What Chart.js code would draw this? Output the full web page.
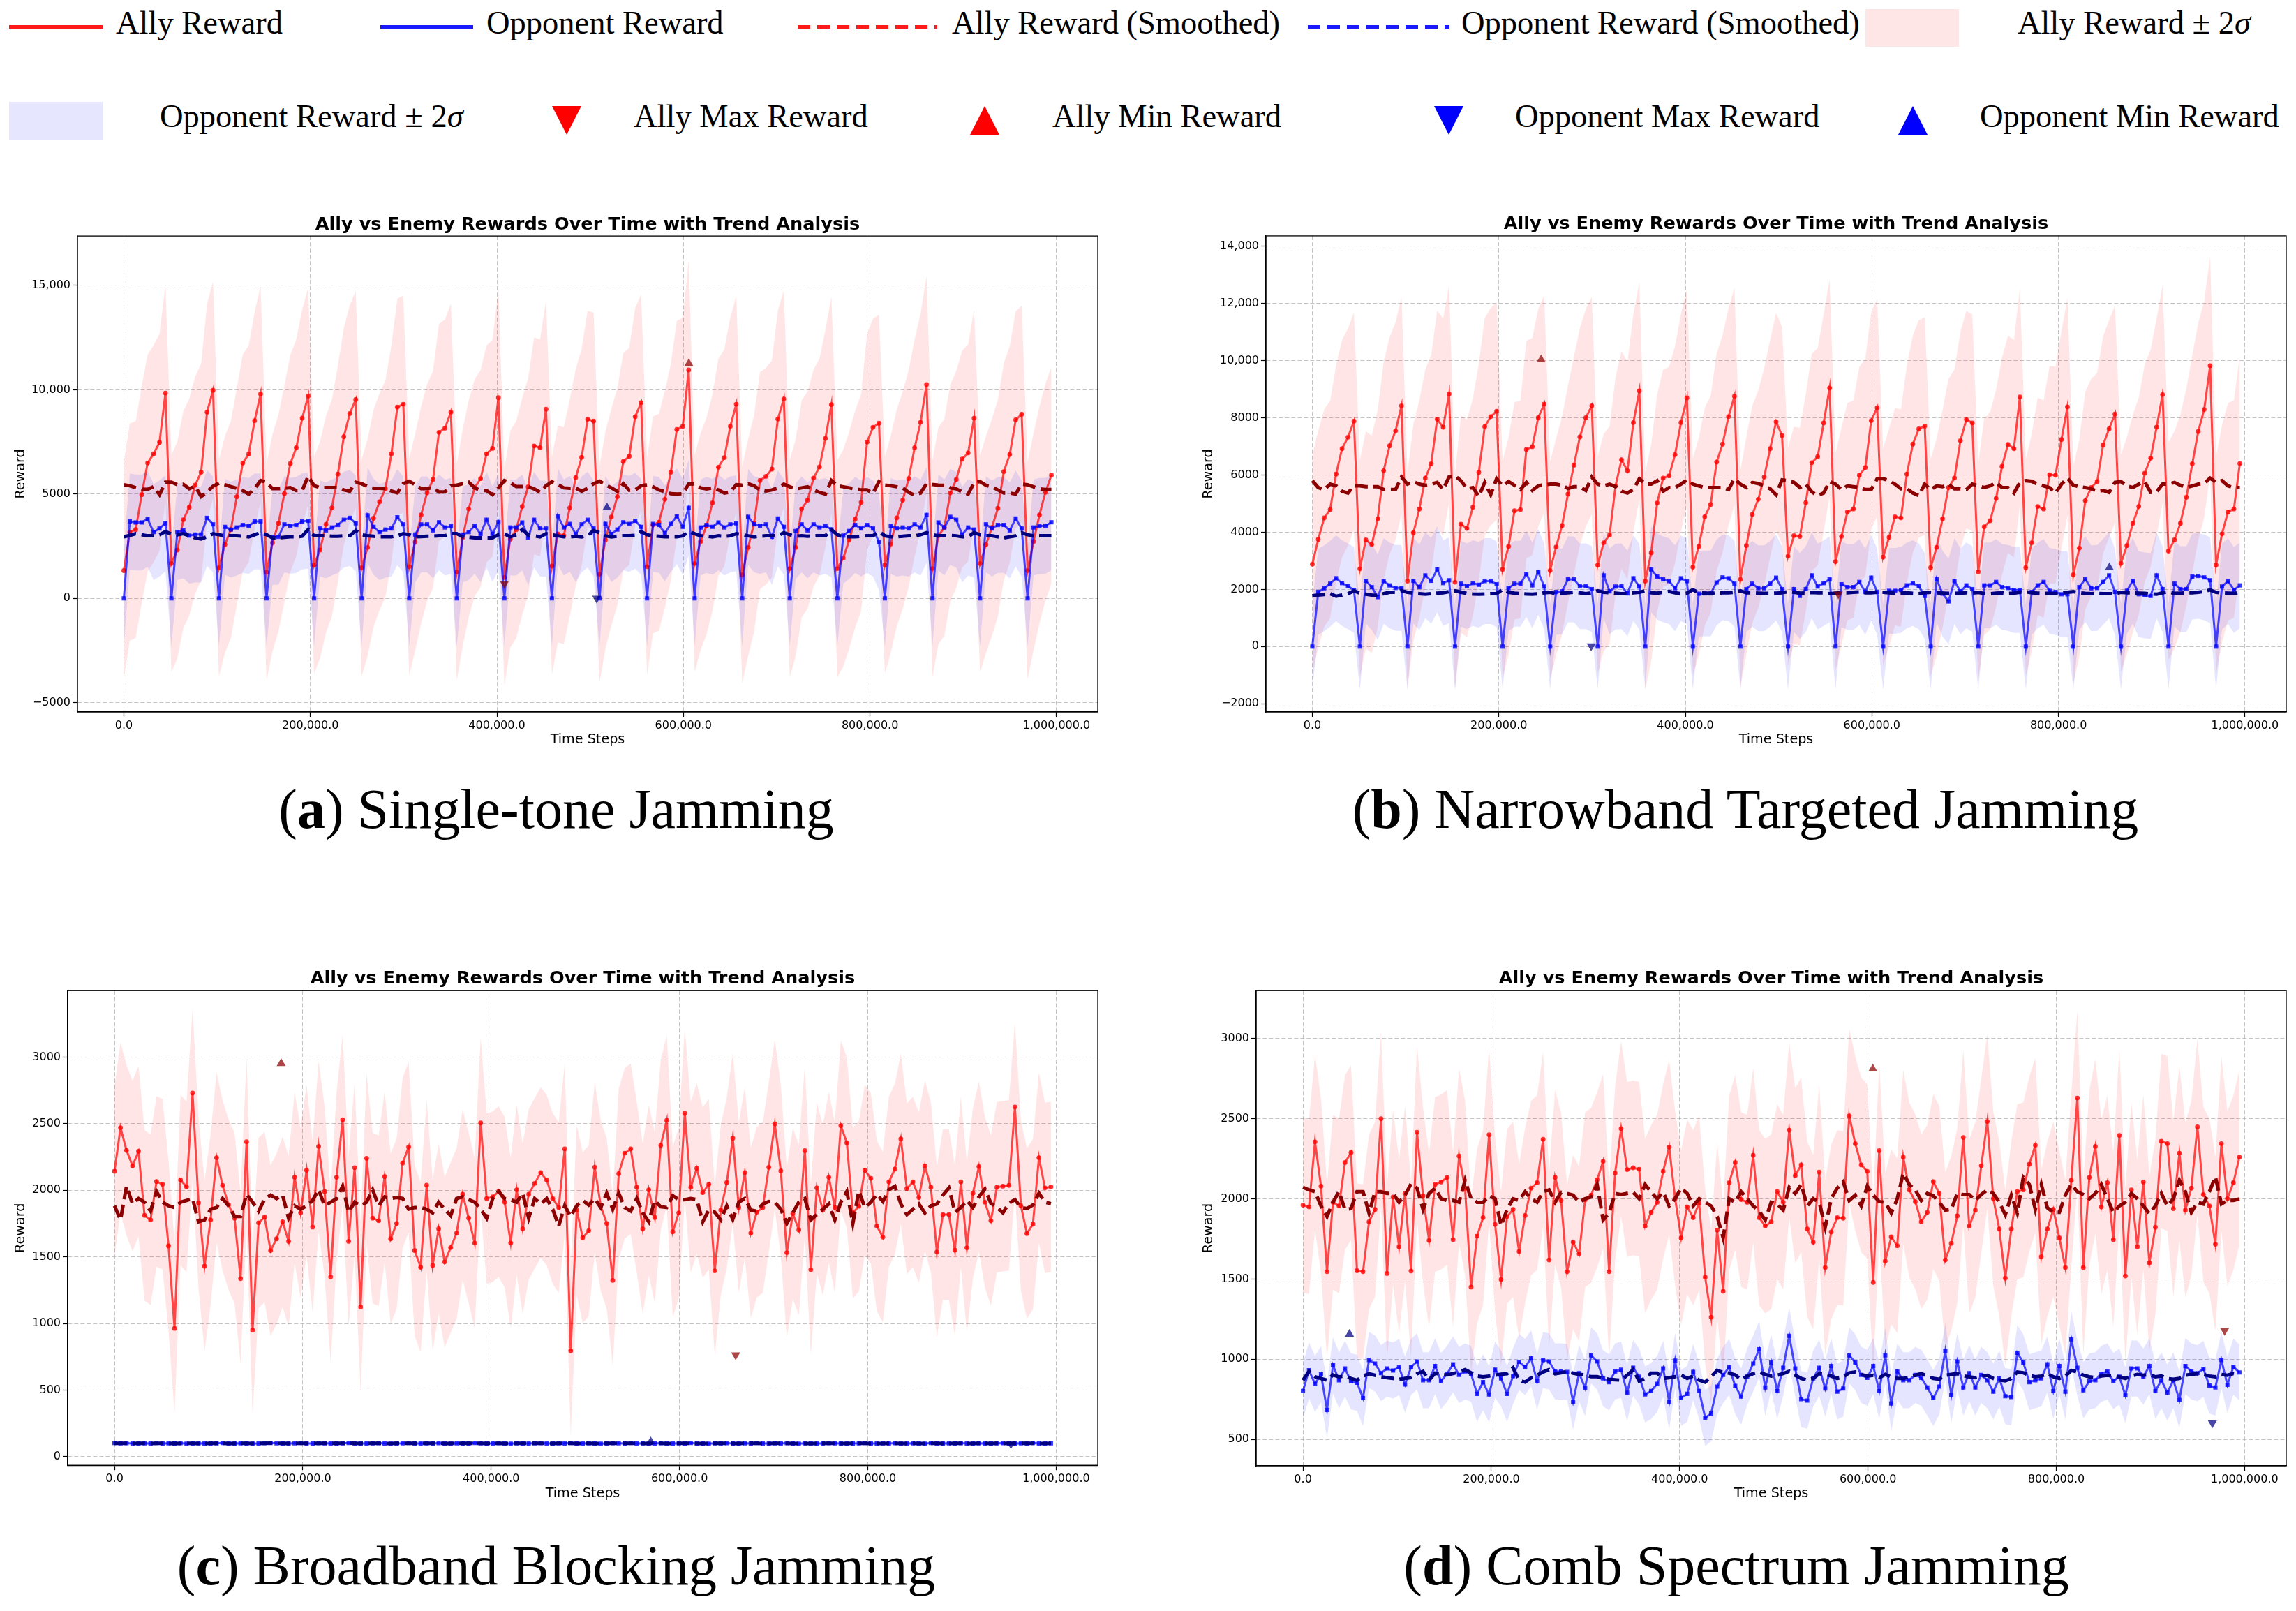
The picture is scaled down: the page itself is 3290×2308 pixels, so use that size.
<!DOCTYPE html>
<html>
<head>
<meta charset="utf-8">
<script src="https://cdn.jsdelivr.net/npm/chart.js@4.4.1/dist/chart.umd.min.js"></script>
<style>
html, body { margin: 0; padding: 0; background: #fff; }
body { width: 3290px; height: 2308px; position: relative; overflow: hidden; font-family: 'Liberation Serif', serif; color: #000; }
canvas { position: absolute; }
.lg { position: absolute; font-size: 46.5px; line-height: 46.5px; white-space: nowrap; }
.sw { position: absolute; }
.dash-r { background: repeating-linear-gradient(90deg, #ff1a1a 0 18px, transparent 18px 28px); }
.dash-b { background: repeating-linear-gradient(90deg, #1a1aff 0 18px, transparent 18px 28px); }
.tri-d, .tri-u { position: absolute; width: 0; height: 0; border-left: 21px solid transparent; border-right: 21px solid transparent; }
.tri-d { border-top: 41px solid; }
.tri-u { border-bottom: 41px solid; }
.cap { position: absolute; width: 1600px; text-align: center; font-size: 80px; line-height: 80px; white-space: nowrap; }
</style>
</head>
<body>

<!-- legend, row 1 -->
<div class="sw" style="left:13px;top:36px;width:134px;height:5px;background:#ff1a1a"></div>
<div class="lg" style="left:166px;top:10px">Ally Reward</div>
<div class="sw" style="left:545px;top:36px;width:133px;height:5px;background:#1a1aff"></div>
<div class="lg" style="left:697px;top:10px">Opponent Reward</div>
<div class="sw dash-r" style="left:1143px;top:36px;width:200px;height:5px"></div>
<div class="lg" style="left:1364px;top:10px">Ally Reward (Smoothed)</div>
<div class="sw dash-b" style="left:1874px;top:36px;width:203px;height:5px"></div>
<div class="lg" style="left:2094px;top:10px">Opponent Reward (Smoothed)</div>
<div class="sw" style="left:2673px;top:13px;width:134px;height:54px;background:#ffe6e6"></div>
<div class="lg" style="left:2891px;top:10px">Ally Reward ± 2<i>σ</i></div>

<!-- legend, row 2 -->
<div class="sw" style="left:13px;top:146px;width:134px;height:54px;background:#e6e6ff"></div>
<div class="lg" style="left:229px;top:144px">Opponent Reward ± 2<i>σ</i></div>
<div class="tri-d" style="left:791px;top:152px;border-top-color:#ff0000"></div>
<div class="lg" style="left:908px;top:144px">Ally Max Reward</div>
<div class="tri-u" style="left:1390px;top:152px;border-bottom-color:#ff0000"></div>
<div class="lg" style="left:1508px;top:144px">Ally Min Reward</div>
<div class="tri-d" style="left:2055px;top:152px;border-top-color:#0000ff"></div>
<div class="lg" style="left:2171px;top:144px">Opponent Max Reward</div>
<div class="tri-u" style="left:2720px;top:152px;border-bottom-color:#0000ff"></div>
<div class="lg" style="left:2837px;top:144px">Opponent Min Reward</div>

<canvas id="panelA" width="1600" height="782" style="left:0px;top:290px"></canvas>
<canvas id="panelB" width="1590" height="782" style="left:1700px;top:290px"></canvas>
<canvas id="panelC" width="1600" height="782" style="left:0px;top:1370px"></canvas>
<canvas id="panelD" width="1590" height="782" style="left:1700px;top:1370px"></canvas>

<div class="cap" style="left:-3px;top:1119px">(<b>a</b>) Single-tone Jamming</div>
<div class="cap" style="left:1701px;top:1119px">(<b>b</b>) Narrowband Targeted Jamming</div>
<div class="cap" style="left:-3px;top:2203px">(<b>c</b>) Broadband Blocking Jamming</div>
<div class="cap" style="left:1688px;top:2203px">(<b>d</b>) Comb Spectrum Jamming</div>

<script>
// time steps shared by all four runs (157 evaluation points)
const STEP = 6375;
const timeSteps = Array.from({ length: 157 }, (_, i) => i * STEP);
const xTickValues = [0, 200000, 400000, 600000, 800000, 1000000];

// ---- (a) single-tone jamming
const singleToneAlly = [
  1330, 3180, 3300, 4970, 6490, 6930, 7480, 9840, 1670,
  2320, 3770, 4370, 5430, 6050, 8930, 9975, 1470,
  2580, 3300, 4870, 6490, 6920, 8520, 9800, 1250,
  2660, 3600, 5020, 6460, 7220, 8640, 9700, 1590,
  2320, 3550, 4340, 5960, 7750, 8860, 9530, 1470,
  2440, 3840, 4630, 5260, 6930, 9170, 9310, 1520,
  2700, 4000, 5060, 5700, 7960, 8160, 8930, 1260,
  2920, 4290, 5310, 5740, 6930, 7190, 9620, 1000,
  2840, 3300, 4400, 5350, 7310, 7220, 9070, 1550,
  3090, 3010, 4340, 5790, 6760, 8590, 8500, 1160,
  2800, 3900, 4870, 6560, 6810, 8710, 9380, 1520,
  3520, 3650, 4750, 6050, 8100, 8250, 10950, 1670,
  2720, 3470, 4580, 6290, 6750, 8250, 9310, 1130,
  2440, 3600, 5650, 5850, 6200, 8600, 9560, 1430,
  2440, 4290, 4710, 5770, 6300, 7670, 9290, 1430,
  1930, 2800, 3800, 4600, 7500, 8200, 8400, 1600,
  2610, 3860, 4710, 5740, 7220, 8440, 10250, 1430,
  3000, 3400, 5060, 5700, 6680, 6970, 8640, 1670,
  2580, 3400, 4320, 6080, 6900, 8560, 8830, 1330,
  2720, 4000, 5090, 5910
];
const singleToneOpp = [
  0, 3690, 3640, 3640, 3810, 3180, 3350, 3600, 0,
  3180, 3260, 3010, 3060, 3060, 3860, 3550, 0,
  3430, 3300, 3400, 3520, 3470, 3690, 3690, 0,
  2950, 2950, 3550, 3480, 3520, 3690, 3720, 0,
  3350, 3260, 3400, 3520, 3770, 3860, 3600, 0,
  3980, 3430, 3180, 3300, 3350, 3890, 3550, 0,
  3060, 3550, 3550, 3260, 3650, 3400, 3470, 0,
  3060, 3180, 3480, 3090, 3770, 3090, 3650, 0,
  3400, 3400, 3640, 2920, 3770, 3350, 3350, 0,
  3940, 3400, 3570, 3090, 3550, 3770, 3350, 0,
  3570, 3090, 3300, 3650, 3570, 3720, 3430, 0,
  3570, 3520, 3130, 3570, 3940, 3430, 4340, 0,
  3400, 3520, 3430, 3640, 3400, 3550, 3600, 0,
  3910, 3550, 3480, 3550, 2950, 3830, 3430, 0,
  3230, 3550, 3260, 3550, 3400, 3470, 3310, 0,
  3010, 3230, 3520, 3350, 3520, 3350, 2700, 0,
  3470, 3350, 3400, 3350, 3550, 3400, 4000, 0,
  3640, 3400, 3910, 3770, 3060, 3400, 3300, 0,
  3550, 3350, 3520, 3520, 3260, 3830, 3350, 0,
  3400, 3470, 3480, 3650
];
const singleToneAllySmoothed = [
  5450, 5400, 5310, 5240, 5230, 5360, 4970, 5570, 5570,
  5450, 5470, 5260, 5380, 4880, 5110, 5380, 5520,
  5450, 5360, 5280, 5170, 5000, 5260, 5650, 5570,
  5260, 5260, 5280, 5310, 5170, 5170, 5860, 5400,
  5310, 5310, 5310, 5310, 5200, 5140, 5570, 5500,
  5360, 5280, 5280, 5260, 5150, 5060, 5500, 5610,
  5450, 5260, 5260, 5310, 5100, 5110, 5400, 5430,
  5500, 5570, 5300, 5170, 5170, 4970, 5300, 5650,
  5550, 5360, 5360, 5360, 5250, 5090, 5400, 5590,
  5450, 5300, 5280, 5290, 5140, 5280, 5500, 5620,
  5450, 5300, 5130, 5500, 5180, 5200, 5400, 5450,
  5350, 5200, 5120, 5020, 5000, 5020, 5480, 5490,
  5300, 5250, 5300, 5200, 5050, 5100, 5450, 5430,
  5500, 5400, 5200, 5150, 5200, 5300, 5480, 5350,
  5250, 5300, 5350, 5200, 5080, 5000, 5650, 5400,
  5350, 5300, 5250, 5200, 5200, 5040, 5600, 5430,
  5400, 5350, 5300, 5080, 4950, 5050, 5500, 5460,
  5430, 5420, 5300, 5250, 5100, 5000, 5550, 5600,
  5420, 5350, 5200, 5050, 5050, 5000, 5480, 5450,
  5350, 5250, 5220, 5220
];
const singleToneOppSmoothed = [
  2950, 3020, 3100, 3050, 3000, 3010, 3050, 3200, 3080,
  3050, 3100, 3000, 2900, 2850, 2950, 3100, 3050,
  3000, 3000, 3000, 2980, 2950, 3050, 3150, 3050,
  2900, 2900, 2930, 2950, 2950, 2980, 3300, 3000,
  3000, 3000, 2980, 2980, 3000, 3000, 3250, 3050,
  3000, 2980, 2950, 2950, 2950, 3000, 3100, 3050,
  2950, 2960, 2980, 2980, 3000, 3000, 3100, 3100,
  2950, 2930, 2900, 2900, 2900, 2900, 3050, 3100,
  2950, 3050, 3300, 3050, 3000, 2950, 3100, 3050,
  3000, 2950, 2950, 2980, 2950, 3000, 3250, 3150,
  3000, 2950, 2980, 3000, 3000, 3020, 3200, 3050,
  3000, 2980, 2950, 2950, 2950, 3000, 3200, 3100,
  3000, 2980, 2950, 3000, 2980, 3000, 3100, 3050,
  3000, 2950, 2980, 3000, 3000, 3000, 3150, 3050,
  2980, 3000, 2980, 3000, 3000, 3000, 3300, 3050,
  2950, 2950, 2950, 2980, 3000, 3000, 3200, 3000,
  2950, 2950, 2980, 3000, 3000, 3050, 3150, 3050,
  3000, 3000, 3020, 3000, 2950, 2950, 3150, 3050,
  3000, 3000, 2950, 2900, 2950, 3000, 3150, 3050,
  3000, 3000, 3000, 3000
];
const singleToneTwoSigma = { ally: 5200, opp: 2300 };
const singleToneExtremes = { allyMax: [408000, 700], allyMin: [605800, 11260], oppMax: [507000, 0], oppMin: [518000, 4350] };
const singleToneYRange = [-5445, 17371];
const singleToneYTicks = [-5000, 0, 5000, 10000, 15000];

// ---- (b) narrowband targeted jamming
const narrowbandAlly = [
  2880, 3750, 4500, 4790, 6030, 6920, 7320, 7880, 2720,
  3730, 3570, 4470, 6150, 7020, 7540, 8420, 2290,
  3980, 4810, 5890, 6390, 7950, 7670, 8830, 2250,
  4280, 4130, 4870, 6090, 7690, 8040, 8230, 2700,
  3500, 4750, 4790, 6890, 6990, 8000, 8480, 2660,
  3480, 4230, 5330, 6340, 7330, 8000, 8420, 2850,
  3630, 3900, 5620, 6530, 6150, 7830, 8940, 2290,
  3280, 5020, 5890, 5970, 6710, 7830, 8690, 2780,
  3500, 4540, 4970, 6450, 7080, 8040, 8750, 2350,
  3530, 4620, 5150, 5930, 6920, 7860, 7380, 3160,
  3880, 3850, 5030, 6430, 6640, 7820, 9040, 2970,
  3850, 4710, 4810, 5990, 6260, 7900, 8350, 3130,
  3820, 4540, 4500, 6030, 7080, 7610, 7710, 2760,
  3470, 4470, 5560, 5890, 7200, 7940, 7820, 2610,
  4190, 4400, 5180, 6300, 7070, 6920, 8730, 2760,
  3630, 4900, 4810, 6010, 5990, 7240, 8380, 2510,
  3440, 5100, 5560, 5770, 7050, 7610, 8130, 2910,
  3530, 4310, 4900, 6060, 6590, 7670, 8810, 3340,
  3730, 4310, 5220, 6390, 7520, 8290, 9820, 2850,
  3940, 4710, 4810, 6400
];
const narrowbandOpp = [
  0, 1910, 2040, 2200, 2390, 2220, 2110, 1980, 0,
  2300, 2080, 1730, 2290, 2140, 2050, 2050, 0,
  2300, 2080, 2490, 2300, 2700, 2220, 2320, 0,
  2200, 2110, 2220, 2160, 2290, 2290, 2180, 0,
  2040, 2200, 2200, 2540, 2140, 2610, 2100, 0,
  1910, 1930, 2350, 2350, 2110, 2110, 2010, 0,
  2490, 1930, 2100, 2110, 1860, 2390, 2100, 0,
  2700, 2450, 2350, 2290, 2040, 2390, 2290, 0,
  1850, 1860, 1860, 2240, 2420, 2390, 2200, 0,
  2010, 2200, 2040, 2040, 2200, 2410, 2010, 0,
  2010, 1770, 2010, 2490, 2100, 2220, 2350, 0,
  2180, 2080, 2080, 2260, 1910, 2410, 1910, 0,
  1950, 1950, 1980, 2140, 2220, 2110, 1770, 0,
  2350, 1850, 1580, 2290, 1930, 2140, 2010, 0,
  2140, 2140, 2260, 2080, 2050, 1980, 1980, 0,
  1910, 2140, 2260, 1950, 1910, 1830, 1830, 0,
  2080, 2360, 2040, 2050, 2260, 2490, 1910, 0,
  1950, 2300, 1830, 1790, 1770, 2490, 2010, 0,
  2200, 2010, 2010, 2450, 2470, 2420, 2320, 0,
  2100, 2290, 1980, 2140
];
const narrowbandAllySmoothed = [
  5800, 5560, 5490, 5680, 5620, 5430, 5370, 5620, 5620,
  5590, 5590, 5590, 5490, 5490, 5490, 5930, 5680,
  5770, 5680, 5640, 5680, 5740, 5490, 5930, 5970,
  5800, 5520, 5560, 5250, 5740, 5310, 5870, 5620,
  5770, 5640, 5490, 5740, 5460, 5620, 5660, 5680,
  5680, 5640, 5530, 5590, 5590, 5460, 5930, 5680,
  5620, 5680, 5590, 5430, 5370, 5490, 5870, 5680,
  5680, 5800, 5430, 5560, 5560, 5680, 5830, 5680,
  5620, 5560, 5560, 5560, 5560, 5490, 5870, 5680,
  5560, 5740, 5700, 5620, 5520, 5310, 5830, 5800,
  5740, 5560, 5680, 5410, 5280, 5370, 5770, 5680,
  5490, 5620, 5590, 5560, 5490, 5490, 5870, 5870,
  5800, 5680, 5520, 5520, 5370, 5280, 5680, 5490,
  5620, 5590, 5680, 5520, 5520, 5490, 5680, 5620,
  5560, 5620, 5740, 5560, 5560, 5370, 5740, 5800,
  5780, 5680, 5620, 5560, 5370, 5680, 5890, 5640,
  5590, 5560, 5520, 5430, 5460, 5390, 5740, 5770,
  5620, 5560, 5680, 5770, 5390, 5410, 5680, 5680,
  5740, 5640, 5560, 5620, 5680, 5700, 5890, 5740,
  5800, 5620, 5560, 5560
];
const narrowbandOppSmoothed = [
  1780, 1800, 1820, 1850, 1760, 1800, 1850, 1950, 1870,
  1830, 1800, 1790, 1850, 1900, 1900, 1950, 1900,
  1870, 1850, 1830, 1850, 1870, 1880, 1920, 1950,
  1900, 1860, 1840, 1830, 1840, 1850, 1850, 2000,
  1900, 1870, 1850, 1840, 1830, 1850, 1880, 1900,
  1850, 1870, 1880, 1900, 1880, 1850, 1880, 1950,
  1900, 1880, 1870, 1850, 1860, 1880, 1900, 1950,
  1880, 1870, 1900, 1930, 1880, 1850, 1870, 1990,
  1880, 1870, 1860, 1870, 1880, 1880, 1900, 1950,
  1880, 1880, 1870, 1860, 1860, 1870, 1880, 1920,
  1900, 1870, 1870, 1890, 1880, 1880, 1850, 1870,
  1880, 1880, 1900, 1910, 1880, 1880, 1900, 1900,
  1880, 1860, 1870, 1880, 1860, 1850, 1880, 1900,
  1880, 1870, 1860, 1860, 1870, 1880, 1870, 1890,
  1860, 1850, 1870, 1880, 1860, 1870, 1900, 1920,
  1880, 1870, 1860, 1860, 1850, 1870, 1900, 1920,
  1880, 1860, 1850, 1860, 1850, 1850, 1850, 1900,
  1880, 1880, 1870, 1860, 1840, 1830, 1880, 1910,
  1860, 1870, 1880, 1880, 1900, 1930, 1980, 1900,
  1880, 1870, 1860, 1880
];
const narrowbandTwoSigma = { ally: 3800, opp: 1500 };
const narrowbandExtremes = { allyMax: [564000, 1830], allyMin: [245300, 10030], oppMax: [299000, 20], oppMin: [854600, 2760] };
const narrowbandYRange = [-2286, 14359];
const narrowbandYTicks = [-2000, 0, 2000, 4000, 6000, 8000, 10000, 12000, 14000];

// ---- (c) broadband blocking jamming
const broadbandAlly = [
  2143, 2470, 2300, 2183, 2293, 1812, 1778, 2066, 2045, 1583,
  963, 2077, 2026, 2730, 1906, 1431, 1778, 2245, 2037, 1892,
  1790, 1337, 2365, 950, 1756, 1799, 1548, 1636, 1764, 1617,
  2098, 1831, 2151, 1724, 2330, 1990, 1350, 2098, 2530, 1617,
  2170, 1124, 2240, 1791, 1772, 2103, 1636, 1751, 2205, 2325,
  1548, 1423, 2039, 1436, 1711, 1463, 1570, 1679, 1970, 1791,
  1604, 2506, 1938, 1951, 1991, 1911, 1604, 2004, 1711, 1970,
  2052, 2133, 2077, 1938, 1871, 2311, 795, 1852, 1644, 1697,
  2173, 1884, 1751, 1324, 2125, 2279, 2311, 2023, 1711, 2004,
  1796, 2338, 2525, 1689, 1831, 2578, 2023, 2165, 1983, 2045,
  1396, 1852, 2058, 2391, 1871, 2133, 1679, 1836, 1871, 2173,
  2498, 2146, 1532, 1826, 1703, 2298, 1404, 2018, 1852, 2098,
  1871, 2485, 2357, 1831, 1880, 2151, 2090, 1732, 1649, 2063,
  2159, 2386, 2012, 2063, 1946, 2183, 2023, 1537, 1818, 1818,
  1551, 2063, 1569, 1978, 2178, 1911, 1772, 2023, 2031, 2037,
  2626, 1884, 1676, 1746, 2245, 2018, 2026
];
const broadbandOpp = [
  104, 101, 102, 100, 99, 101, 100, 103, 99, 101,
  100, 102, 98, 100, 101, 99, 100, 101, 103, 100,
  99, 101, 100, 98, 100, 102, 104, 101, 100, 99,
  101, 103, 100, 100, 102, 101, 99, 100, 101, 104,
  100, 99, 100, 101, 102, 100, 98, 100, 101, 103,
  100, 99, 101, 100, 102, 100, 99, 101, 100, 100,
  103, 101, 99, 100, 102, 100, 98, 101, 100, 99,
  101, 102, 100, 99, 101, 100, 103, 100, 99, 101,
  100, 98, 100, 102, 101, 99, 104, 100, 101, 99,
  100, 102, 100, 99, 101, 100, 103, 100, 99, 98,
  101, 100, 102, 100, 99, 101, 100, 103, 100, 99,
  101, 100, 102, 100, 98, 101, 100, 99, 100, 102,
  101, 100, 99, 100, 101, 103, 100, 99, 101, 100,
  102, 99, 100, 101, 100, 98, 103, 100, 99, 101,
  100, 102, 100, 99, 101, 100, 99, 101, 102, 100,
  99, 101, 100, 103, 100, 99, 101
];
const broadbandAllySmoothed = [
  1884, 1778, 2031, 1898, 1938, 1911, 1844, 1991, 1911, 1884,
  1871, 1911, 1924, 1938, 1764, 1778, 1858, 1871, 1938, 1884,
  1804, 1804, 1970, 1911, 1844, 1932, 1964, 1938, 1964, 1791,
  1884, 1858, 1884, 1924, 2004, 1884, 1911, 1938, 2031, 1836,
  1911, 1884, 1911, 2004, 1884, 1951, 1938, 1946, 1938, 1858,
  1871, 1871, 1858, 1831, 1911, 1858, 1810, 1938, 1951, 1930,
  1911, 1858, 1791, 1938, 1991, 1938, 1930, 1911, 1978, 1791,
  1938, 1898, 1938, 1858, 1732, 1884, 1804, 1884, 1924, 1890,
  1938, 1871, 1978, 1858, 1978, 1871, 1844, 1938, 1831, 1764,
  1924, 1876, 1871, 1959, 1930, 1930, 1938, 1930, 1764, 1852,
  1836, 1778, 1884, 1783, 1911, 1938, 1852, 1844, 1898, 1916,
  1911, 1858, 1751, 1831, 1911, 1938, 1778, 1818, 1858, 1898,
  1778, 1911, 1991, 1751, 1996, 1871, 1911, 1970, 1916, 2004,
  2031, 1898, 1818, 1858, 1898, 1831, 1884, 1898, 1964, 2018,
  1836, 1871, 1924, 1871, 1951, 2010, 1903, 1871, 1831, 1903,
  1930, 1871, 1863, 1890, 1978, 1911, 1900
];
const broadbandOppSmoothed = [
  101, 101, 101, 100, 101, 101, 100, 101, 101, 100,
  101, 100, 101, 101, 100, 100, 101, 101, 101, 100,
  100, 101, 101, 100, 101, 101, 102, 101, 101, 100,
  101, 101, 101, 100, 101, 101, 100, 101, 101, 102,
  101, 100, 101, 101, 101, 100, 100, 101, 101, 101,
  101, 100, 101, 101, 101, 100, 100, 101, 101, 101,
  101, 101, 100, 101, 101, 100, 100, 101, 101, 100,
  101, 101, 100, 100, 101, 101, 101, 100, 100, 101,
  100, 100, 101, 101, 101, 101, 101, 101, 100, 100,
  101, 101, 100, 100, 101, 101, 101, 100, 100, 100,
  101, 101, 101, 100, 100, 101, 101, 101, 100, 100,
  101, 101, 101, 100, 100, 100, 100, 100, 101, 101,
  101, 100, 100, 101, 101, 101, 100, 100, 100, 101,
  101, 100, 100, 101, 100, 100, 101, 101, 100, 100,
  101, 101, 100, 100, 101, 101, 100, 101, 101, 100,
  100, 101, 101, 101, 100, 100, 101
];
const broadbandTwoSigma = { ally: 640, opp: 9 };
const broadbandExtremes = { allyMax: [659700, 763], allyMin: [177000, 2952], oppMax: [952000, 96], oppMin: [569500, 112] };
const broadbandYRange = [-64, 3499];
const broadbandYTicks = [0, 500, 1000, 1500, 2000, 2500, 3000];

// ---- (d) comb spectrum jamming
const combAlly = [
  1961, 1950, 2356, 2079, 1546, 1979, 1956, 2227, 2289, 1552,
  1546, 1857, 1934, 2500, 1535, 2012, 1701, 2034, 1550, 2416,
  2019, 1741, 2090, 2105, 2134, 1746, 2267, 2067, 1450, 1768,
  1883, 2400, 1841, 1497, 1890, 1934, 1672, 1896, 2067, 2101,
  2372, 1619, 2134, 1990, 1546, 1730, 1657, 1994, 2023, 2119,
  2234, 1546, 2161, 2438, 2183, 2194, 2185, 1830, 1916, 1979,
  2172, 2323, 2001, 1757, 1950, 1883, 1974, 1512, 1262, 1805,
  1424, 2101, 2227, 1996, 1979, 2272, 1883, 1830, 1857, 2045,
  1979, 2429, 2145, 2212, 1812, 1730, 2167, 1572, 1794, 1883,
  1879, 2518, 2345, 2212, 2172, 1479, 2301, 1612, 1763, 1708,
  2261, 2056, 1983, 1857, 1916, 2107, 2034, 1619, 1723, 1894,
  2383, 1830, 1930, 2207, 2483, 2001, 1812, 1506, 1812, 2045,
  2056, 2216, 2334, 1639, 1812, 1934, 1757, 1572, 2116, 2629,
  1572, 2134, 2327, 1950, 2101, 1746, 2396, 1519, 2056, 1701,
  2105, 1601, 1823, 2360, 2345, 1939, 2285, 1930, 2067, 2449,
  2027, 1956, 1717, 2345, 2001, 2101, 2261
];
const combOpp = [
  802, 931, 846, 906, 684, 962, 869, 942, 862, 853,
  758, 995, 973, 913, 942, 929, 951, 842, 951, 986,
  869, 869, 957, 864, 909, 968, 902, 924, 909, 784,
  857, 780, 935, 880, 784, 895, 984, 951, 1006, 862,
  995, 986, 924, 924, 920, 735, 913, 820, 1024, 986,
  880, 857, 924, 935, 791, 946, 891, 780, 802, 846,
  942, 735, 991, 758, 784, 920, 802, 635, 662, 829,
  902, 951, 833, 767, 891, 973, 1062, 824, 980, 802,
  946, 1146, 942, 751, 742, 880, 946, 817, 957, 798,
  817, 1024, 980, 902, 884, 957, 802, 1024, 724, 924,
  869, 869, 902, 884, 824, 758, 829, 1051, 775, 986,
  824, 913, 824, 902, 869, 798, 880, 769, 764, 1040,
  980, 857, 869, 880, 968, 802, 957, 798, 1124, 946,
  806, 862, 869, 909, 924, 864, 891, 775, 942, 942,
  891, 957, 802, 869, 791, 869, 746, 957, 924, 913,
  940, 835, 824, 995, 840, 953, 917
];
const combAllySmoothed = [
  2072, 2056, 2045, 1956, 1890, 1979, 2045, 1934, 1939, 2045,
  2045, 1912, 2045, 2045, 2034, 2034, 1979, 2023, 2094, 2067,
  1934, 2034, 2067, 2001, 1990, 1990, 1979, 2116, 2001, 1979,
  1979, 2019, 2001, 1834, 1934, 2001, 1990, 2045, 2001, 1979,
  2045, 2056, 1979, 2041, 2034, 2023, 1979, 2001, 2012, 2090,
  1868, 1912, 2034, 2027, 2034, 2041, 2001, 2090, 2041, 2001,
  2041, 1956, 2001, 2067, 2034, 1956, 2001, 1979, 1956, 1890,
  1757, 2001, 1979, 2045, 2001, 1956, 1923, 1868, 1979, 1968,
  1930, 2072, 2034, 2090, 1956, 2001, 1979, 1823, 2001, 2067,
  2107, 1990, 2023, 1956, 2079, 2023, 1983, 1979, 1912, 2001,
  2161, 2090, 2056, 1990, 2034, 2019, 1979, 1930, 1934, 2034,
  2027, 2027, 1990, 2027, 2056, 2034, 1979, 1901, 2023, 1912,
  2134, 2090, 1934, 2090, 1945, 1916, 1916, 2023, 2090, 2045,
  2027, 2001, 2034, 2090, 2001, 1916, 1956, 1979, 2034, 2001,
  1956, 1908, 1956, 2034, 1956, 2001, 2116, 2045, 1916, 1979,
  1968, 2045, 2138, 1968, 1990, 1990, 2000
];
const combOppSmoothed = [
  869, 924, 891, 880, 869, 902, 890, 895, 880, 869,
  895, 909, 900, 891, 885, 880, 875, 880, 885, 909,
  924, 869, 913, 905, 902, 910, 920, 935, 915, 895,
  890, 895, 900, 906, 909, 946, 869, 857, 884, 900,
  920, 935, 909, 915, 924, 913, 905, 902, 891, 891,
  880, 875, 872, 869, 900, 935, 864, 880, 913, 913,
  880, 885, 891, 902, 880, 895, 869, 857, 891, 931,
  917, 913, 902, 873, 895, 910, 920, 905, 895, 900,
  910, 925, 900, 880, 870, 880, 910, 905, 895, 880,
  890, 915, 920, 905, 895, 900, 885, 905, 890, 880,
  880, 890, 900, 910, 895, 880, 875, 900, 905, 910,
  895, 890, 885, 895, 900, 880, 870, 865, 880, 920,
  915, 900, 890, 895, 910, 890, 880, 895, 930, 920,
  900, 890, 885, 895, 900, 895, 890, 880, 895, 905,
  900, 905, 890, 895, 880, 875, 880, 900, 905, 910,
  905, 895, 890, 905, 900, 910, 900
];
const combTwoSigma = { ally: 545, opp: 175 };
const combExtremes = { allyMax: [978800, 1179], allyMin: [605200, 2811], oppMax: [965800, 602], oppMin: [49400, 1157] };
const combYRange = [335, 3299];
const combYTicks = [500, 1000, 1500, 2000, 2500, 3000];

const X_RANGE = [-49725, 1044225];
const TITLE = 'Ally vs Enemy Rewards Over Time with Trend Analysis';

Chart.defaults.font.family = "'DejaVu Sans', sans-serif";
Chart.defaults.color = '#000';

// matplotlib-style closed frame round the plot area
const frame = {
  id: 'frame',
  afterDraw(chart) {
    const { ctx, chartArea: a } = chart;
    ctx.save();
    ctx.strokeStyle = '#000';
    ctx.lineWidth = 1.3;
    ctx.strokeRect(a.left, a.top, a.right - a.left, a.bottom - a.top);
    ctx.restore();
  }
};

function fmtY(v) {
  const a = Math.abs(v);
  const s = a >= 10000 ? a.toLocaleString('en-US') : String(a);
  return (v < 0 ? '\u2212' : '') + s;
}

function buildPanel(id, d, layout) {
  const pts = arr => timeSteps.map((x, i) => ({ x, y: arr[i] }));
  const band = (arr, off) => timeSteps.map((x, i) => ({ x, y: arr[i] + off }));
  const marker = (p, color, rot) => ({
    data: [{ x: p[0], y: p[1] }], showLine: false, pointStyle: 'triangle', pointRotation: rot,
    pointRadius: 7.5, pointBorderWidth: 0, pointBackgroundColor: color, borderColor: color, order: 0
  });
  const hidden = { borderColor: 'transparent', borderWidth: 0, pointRadius: 0 };

  const datasets = [
    Object.assign({ data: band(d.ally, d.sigma2.ally), fill: '+1', backgroundColor: 'rgba(255,0,0,0.1)', order: 10 }, hidden),
    Object.assign({ data: band(d.ally, -d.sigma2.ally), fill: false, order: 10 }, hidden),
    Object.assign({ data: band(d.opp, d.sigma2.opp), fill: '+1', backgroundColor: 'rgba(0,0,255,0.1)', order: 9 }, hidden),
    Object.assign({ data: band(d.opp, -d.sigma2.opp), fill: false, order: 9 }, hidden),
    { data: pts(d.ally), borderColor: 'rgba(255,0,0,0.7)', backgroundColor: 'rgba(255,0,0,0.7)', borderWidth: 3,
      pointStyle: 'circle', pointRadius: 3.4, pointBorderWidth: 0, pointBackgroundColor: 'rgba(255,0,0,0.8)', order: 5 },
    { data: pts(d.opp), borderColor: 'rgba(0,0,255,0.7)', backgroundColor: 'rgba(0,0,255,0.7)', borderWidth: 3,
      pointStyle: 'rect', pointRadius: 4.3, pointBorderWidth: 0, pointBackgroundColor: 'rgba(0,0,255,0.8)', order: 4 },
    { data: pts(d.allySmooth), borderColor: 'rgba(139,0,0,1)', borderWidth: 5, borderDash: [18, 8], pointRadius: 0, order: 3 },
    { data: pts(d.oppSmooth), borderColor: 'rgba(0,0,128,1)', borderWidth: 5, borderDash: [18, 8], pointRadius: 0, order: 2 },
    marker(d.extremes.allyMax, 'rgba(139,0,0,0.72)', 180),
    marker(d.extremes.allyMin, 'rgba(139,0,0,0.72)', 0),
    marker(d.extremes.oppMax, 'rgba(0,0,128,0.72)', 180),
    marker(d.extremes.oppMin, 'rgba(0,0,128,0.72)', 0)
  ];

  const gridCommon = { color: 'rgba(176,176,176,0.75)', lineWidth: 1, drawTicks: true, tickLength: 7, tickColor: '#000', tickWidth: 1.2, tickBorderDash: [] };
  const borderCommon = { display: true, color: '#000', width: 1.3, dash: [6, 3] };
  const fixTicks = values => scale => { scale.ticks = values.map(v => ({ value: v })); };

  new Chart(document.getElementById(id), {
    type: 'line',
    data: { datasets },
    options: {
      responsive: false, animation: false, devicePixelRatio: 1,
      layout: { padding: { left: 0, right: layout.padRight, top: 0, bottom: 0 } },
      plugins: {
        legend: { display: false }, tooltip: { enabled: false },
        title: { display: true, text: TITLE, fullSize: false, color: '#000',
          font: { family: "'DejaVu Sans', sans-serif", size: 25.6, weight: 'bold' },
          padding: { top: layout.titleTop, bottom: layout.titleBottom } }
      },
      scales: {
        x: {
          type: 'linear', min: X_RANGE[0], max: X_RANGE[1],
          afterBuildTicks: fixTicks(xTickValues),
          afterFit: s => { s.height = layout.xAxisH; },
          ticks: { autoSkip: false, maxRotation: 0, padding: 3,
            font: { size: 16 }, color: '#000', callback: v => v.toLocaleString('en-US') + '.0' },
          grid: gridCommon, border: borderCommon,
          title: { display: true, text: 'Time Steps', color: '#000', font: { size: 19.2 }, padding: { top: 0, bottom: 0 } }
        },
        y: {
          type: 'linear', min: d.yRange[0], max: d.yRange[1],
          afterBuildTicks: fixTicks(d.yTicks),
          afterFit: s => { s.width = layout.yAxisW; },
          ticks: { autoSkip: false, padding: 3, font: { size: 16 }, color: '#000', callback: fmtY },
          grid: gridCommon, border: borderCommon,
          title: { display: true, text: 'Reward', color: '#000', font: { size: 19.2 }, padding: { top: layout.yTitlePad, bottom: 0 } }
        }
      }
    },
    plugins: [frame]
  });
}

buildPanel('panelA',
  { ally: singleToneAlly, opp: singleToneOpp, allySmooth: singleToneAllySmoothed, oppSmooth: singleToneOppSmoothed,
    sigma2: singleToneTwoSigma, extremes: singleToneExtremes, yRange: singleToneYRange, yTicks: singleToneYTicks },
  { yAxisW: 111, xAxisH: 52, padRight: 27, titleTop: 16.6, titleBottom: 0.8, yTitlePad: 18.8 });

buildPanel('panelB',
  { ally: narrowbandAlly, opp: narrowbandOpp, allySmooth: narrowbandAllySmoothed, oppSmooth: narrowbandOppSmoothed,
    sigma2: narrowbandTwoSigma, extremes: narrowbandExtremes, yRange: narrowbandYRange, yTicks: narrowbandYTicks },
  { yAxisW: 114, xAxisH: 52, padRight: 14, titleTop: 16, titleBottom: 1.2, yTitlePad: 20 });

buildPanel('panelC',
  { ally: broadbandAlly, opp: broadbandOpp, allySmooth: broadbandAllySmoothed, oppSmooth: broadbandOppSmoothed,
    sigma2: broadbandTwoSigma, extremes: broadbandExtremes, yRange: broadbandYRange, yTicks: broadbandYTicks },
  { yAxisW: 97, xAxisH: 52.8, padRight: 27, titleTop: 16.6, titleBottom: 1.9, yTitlePad: 18.8 });

buildPanel('panelD',
  { ally: combAlly, opp: combOpp, allySmooth: combAllySmoothed, oppSmooth: combOppSmoothed,
    sigma2: combTwoSigma, extremes: combExtremes, yRange: combYRange, yTicks: combYTicks },
  { yAxisW: 100, xAxisH: 52, padRight: 14, titleTop: 16.6, titleBottom: 1.9, yTitlePad: 20 });
</script>
</body>
</html>
